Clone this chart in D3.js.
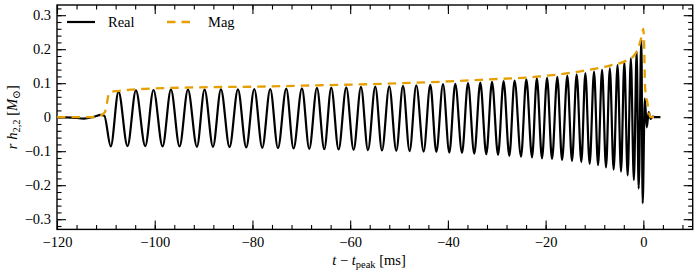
<!DOCTYPE html>
<html>
<head>
<meta charset="utf-8">
<script src="https://cdn.jsdelivr.net/npm/d3@7"></script>
<style>
	body { margin: 0; background: #fff; }
	text { font-family: "Liberation Serif", "DejaVu Serif", serif; }
</style>
</head>
<body>
<div id="chart"></div>
<script>
'use strict';

// time [ms] and value at each turning point of the real part
const realT = [
	-120, -117, -114.5, -112.5, -111, -110.3,
	-109.0, -107.41, -105.57, -103.85, -101.94, -100.25, -98.40, -96.68, -94.92, -93.20,
	-91.36, -89.80, -88.08, -86.45, -84.69, -82.97, -81.27, -79.63, -77.99, -76.36,
	-74.78, -73.08, -71.59, -69.87, -68.37, -66.80, -65.30, -63.87, -62.37, -60.80,
	-59.30, -57.79, -56.36, -54.86, -53.49, -52.00, -50.56, -49.19, -47.84, -46.47,
	-44.97, -43.60, -42.37, -41.00, -39.71, -38.49, -37.11, -35.89, -34.60, -33.37,
	-32.14, -30.97, -29.74, -28.60, -27.43, -26.35, -25.04, -23.95, -22.78, -21.80,
	-20.74, -19.71, -18.69, -17.60, -16.64, -15.56, -14.60, -13.65, -12.69, -11.87,
	-10.99, -10.09, -9.27, -8.45, -7.64, -6.86, -6.08, -5.28, -4.57, -3.89,
	-3.21, -2.56, -1.94, -1.37, -0.96, -0.41, -0.14,
	0.3, 0.7, 1.1, 1.5, 1.9, 2.4, 3.5
];
const realV = [
	0, -0.001, -0.004, 0.001, 0.007, 0.004,
	-0.086, 0.075, -0.085, 0.079, -0.085, 0.080, -0.086, 0.081, -0.086, 0.081,
	-0.087, 0.081, -0.087, 0.082, -0.088, 0.082, -0.089, 0.083, -0.090, 0.083,
	-0.091, 0.084, -0.092, 0.085, -0.093, 0.086, -0.094, 0.087, -0.095, 0.088,
	-0.096, 0.089, -0.097, 0.090, -0.098, 0.091, -0.099, 0.092, -0.100, 0.094,
	-0.101, 0.095, -0.102, 0.097, -0.104, 0.098, -0.105, 0.100, -0.107, 0.102,
	-0.109, 0.104, -0.111, 0.106, -0.114, 0.108, -0.116, 0.111, -0.118, 0.114,
	-0.121, 0.116, -0.123, 0.119, -0.126, 0.122, -0.129, 0.126, -0.132, 0.130,
	-0.137, 0.134, -0.141, 0.139, -0.148, 0.144, -0.154, 0.153, -0.160, 0.162,
	-0.171, 0.173, -0.185, 0.193, -0.210, 0.229, -0.253,
	0.055, -0.03, 0.015, -0.005, 0.002, 0, 0
];

// amplitude |h22|
const magT = [
	-120, -112.2, -111.2, -110.2, -109.8, -109.4, -108.9, -107.5, -105.0, -100.9,
	-90.6, -78.4, -66.1, -53.8, -43.6, -33.4, -21.1, -12.9, -6.8, -3.7,
	-2.0, -1.0, -0.4, 0, 0.15, 0.35, 0.55, 0.8, 1.05, 1.3, 1.5, 3.5
];
const magV = [
	0, 0, 0.004, 0.015, 0.04, 0.068, 0.075, 0.077, 0.081, 0.084,
	0.088, 0.090, 0.094, 0.098, 0.103, 0.110, 0.120, 0.135, 0.152, 0.165,
	0.180, 0.205, 0.235, 0.26, 0.22, 0.09, 0.06, 0.045, 0.025, 0.005, 0, 0
];

const xTicks = [-120, -100, -80, -60, -40, -20, 0];
const yTicks = [-0.3, -0.2, -0.1, 0, 0.1, 0.2, 0.3];
const seriesNames = ["Real", "Mag"];
const seriesColors = ["#000000", "#E69F00"];


const drawChart = () =>
{
	const top    = 5;
	const right  = 4.3;
	const bottom = 49.6;
	const left   = 57;
	const width  = 697 - left - right;
	const height = 279 - top - bottom;
	const fs     = "14.5px";

	const x = d3.scaleLinear().domain([-120, 10.1]).range([0, width]);
	const y = d3.scaleLinear().domain([-0.33, 0.33]).range([height, 0]);

	const svg = d3.select("#chart")
		.append("svg")
		.attr("width", 697)
		.attr("height", 279)
		.append("g")
		.attr("transform", "translate(" + left + "," + top + ")");

	const xMinor = d3.range(-120, 10.2, 4);
	const yMinor = d3.range(-32, 33, 2).map(v => v / 100);
	const yFmt = d => d === 0 ? "0" : d3.format(".1f")(d);

	// ticks on all four sides, pointing inwards
	const axes = [
		[d3.axisBottom(x).tickValues(xTicks).tickFormat(d3.format("d")).tickSize(-9).tickPadding(7), "translate(0," + height + ")"],
		[d3.axisBottom(x).tickValues(xMinor).tickFormat("").tickSize(-4.5), "translate(0," + height + ")"],
		[d3.axisTop(x).tickValues(xTicks).tickFormat("").tickSize(-9), null],
		[d3.axisTop(x).tickValues(xMinor).tickFormat("").tickSize(-4.5), null],
		[d3.axisLeft(y).tickValues(yTicks).tickFormat(yFmt).tickSize(-9).tickPadding(6), null],
		[d3.axisLeft(y).tickValues(yMinor).tickFormat("").tickSize(-4.5), null],
		[d3.axisRight(y).tickValues(yTicks).tickFormat("").tickSize(-9), "translate(" + width + ",0)"],
		[d3.axisRight(y).tickValues(yMinor).tickFormat("").tickSize(-4.5), "translate(" + width + ",0)"]
	];

	axes.forEach(([axis, tr]) =>
	{
		const g = svg.append("g");
		if(tr) g.attr("transform", tr);
		g.call(axis);
		g.select(".domain").remove();
		g.selectAll(".tick line").attr("stroke", "#000").attr("stroke-width", 1.1);
		g.selectAll("text")
			.attr("fill", "#000")
			.style("font-size", fs)
			.style("font-family", '"Liberation Serif", serif');
	});

	svg.append("rect")
		.attr("width", width)
		.attr("height", height)
		.attr("fill", "none")
		.attr("stroke", "#000")
		.attr("stroke-width", 1.4);

	const line = d3.line()
		.x(d => x(d[0]))
		.y(d => y(d[1]))
		.curve(d3.curveMonotoneX);

	svg.append("path")
		.datum(realT.map((t, i) => [t, realV[i]]))
		.attr("d", line)
		.attr("fill", "none")
		.attr("stroke", seriesColors[0])
		.attr("stroke-width", 2.2)
		.attr("stroke-linejoin", "round");

	svg.append("path")
		.datum(magT.map((t, i) => [t, magV[i]]))
		.attr("d", line)
		.attr("fill", "none")
		.attr("stroke", seriesColors[1])
		.attr("stroke-width", 2.3)
		.attr("stroke-dasharray", "8.5,6");

	// legend
	const legend = svg.append("g").attr("transform", "translate(10,17)");
	seriesNames.forEach((name, i) =>
	{
		const g = legend.append("g").attr("transform", "translate(" + (i * 100) + ",0)");
		g.append("line")
			.attr("x1", 0).attr("x2", 28)
			.attr("stroke", seriesColors[i])
			.attr("stroke-width", i ? 2.3 : 2.2)
			.attr("stroke-dasharray", i ? "8.5,6" : null);
		g.append("text")
			.attr("x", 41)
			.attr("y", 5)
			.style("font-size", fs)
			.text(name);
	});

	// axis labels
	const xl = svg.append("text")
		.attr("x", 312)
		.attr("y", height + 36)
		.attr("text-anchor", "middle")
		.style("font-size", fs);
	xl.append("tspan").attr("font-style", "italic").text("t");
	xl.append("tspan").text(" − ");
	xl.append("tspan").attr("font-style", "italic").text("t");
	xl.append("tspan").attr("dy", 3).style("font-size", "10.5px").text("peak");
	xl.append("tspan").attr("dy", -3).text(" [ms]");

	const yl = svg.append("text")
		.attr("transform", "translate(-40," + (height / 2) + ") rotate(-90)")
		.attr("text-anchor", "middle")
		.style("font-size", fs);
	yl.append("tspan").attr("font-style", "italic").text("r h");
	yl.append("tspan").attr("dy", 3).style("font-size", "10.5px").text("2,2");
	yl.append("tspan").attr("dy", -3).text(" [");
	yl.append("tspan").attr("font-style", "italic").text("M");
	yl.append("tspan").attr("dy", 3).style("font-size", "10.5px").text("⊙");
	yl.append("tspan").attr("dy", -3).text("]");
};


document.addEventListener("DOMContentLoaded", () =>
{
	drawChart();
}, false);
</script>
</body>
</html>
